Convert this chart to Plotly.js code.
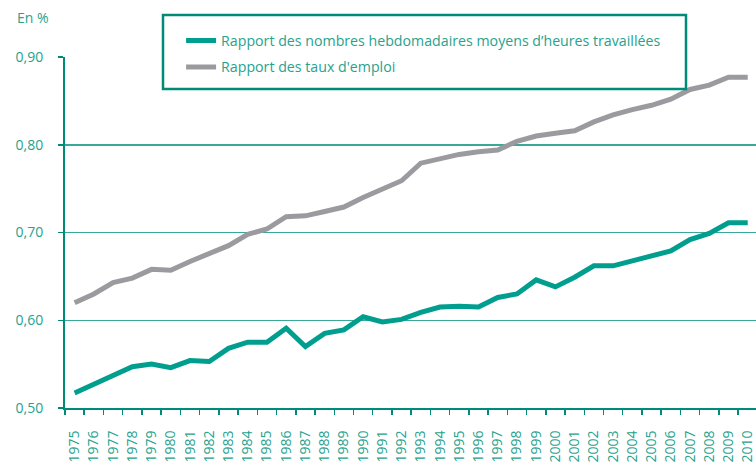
<!DOCTYPE html>
<html>
<head>
<meta charset="utf-8">
<script src="https://cdn.plot.ly/plotly-3.0.1.min.js"></script>
<style>html,body{margin:0;padding:0;background:#fff;}#chart{width:756px;height:464px;}</style>
</head>
<body>
<div id="chart"></div>
<script>
const years = ['1975','1976','1977','1978','1979','1980','1981','1982','1983','1984','1985','1986','1987','1988','1989','1990','1991','1992','1993','1994','1995','1996','1997','1998','1999','2000','2001','2002','2003','2004','2005','2006','2007','2008','2009','2010'];
const heuresRatio = [0.517,0.527,0.538,0.547,0.550,0.546,0.554,0.553,0.568,0.575,0.575,0.591,0.570,0.585,0.589,0.604,0.598,0.601,0.609,0.615,0.616,0.615,0.626,0.630,0.646,0.638,0.649,0.662,0.662,0.668,0.673,0.679,0.692,0.699,0.711,0.711];
const emploiRatio = [0.620,0.630,0.643,0.648,0.658,0.657,0.667,0.676,0.685,0.698,0.704,0.718,0.719,0.724,0.729,0.740,0.750,0.759,0.779,0.784,0.789,0.792,0.794,0.804,0.810,0.813,0.816,0.826,0.834,0.840,0.845,0.852,0.863,0.868,0.877,0.877];
const seriesNames = ['Rapport des nombres hebdomadaires moyens d\u2019heures travaill\u00e9es', "Rapport des taux d'emploi"];

const teal = '#009e8e';
const grey = '#9b9b9f';
const axisCol = '#008a78';
const gridCol = '#3aa898';
const textCol = '#27a28e';
const font = 'Open Sans, Noto Sans, sans-serif';

const traces = [
  {x: years, y: heuresRatio, name: seriesNames[0], type: 'scatter', mode: 'lines',
   line: {color: teal, width: 5}, legendgroup: 'a'},
  {x: years, y: emploiRatio, name: seriesNames[1], type: 'scatter', mode: 'lines',
   line: {color: grey, width: 5}, legendgroup: 'b'}
];

const layout = {
  width: 756, height: 464,
  margin: {l: 65, r: 0, t: 57, b: 56},
  paper_bgcolor: '#fff', plot_bgcolor: '#fff',
  separators: ', ',
  font: {family: font, color: textCol, size: 14},
  showlegend: true,
  legend: {
    x: 0.168, xanchor: 'left', y: 1.092, yanchor: 'top',
    bgcolor: 'rgba(0,0,0,0)', borderwidth: 0,
    font: {family: font, size: 14.2, color: textCol},
    traceorder: 'grouped', tracegroupgap: 5
  },
  xaxis: {
    type: 'category', range: [-0.5, 35.43],
    tickson: 'boundaries', ticks: 'outside', ticklen: 5, tickwidth: 1.5, tickcolor: axisCol,
    showline: true, linecolor: axisCol, linewidth: 2,
    showgrid: false, zeroline: false,
    tickangle: -90, tickfont: {family: font, size: 14, color: textCol},
    ticklabelstandoff: 15, fixedrange: true
  },
  yaxis: {
    range: [0.5, 0.9], dtick: 0.1, tick0: 0.5, tickformat: '.2f',
    ticks: 'outside', ticklen: 5, tickwidth: 1.5, tickcolor: axisCol,
    showline: true, linecolor: axisCol, linewidth: 2,
    showgrid: true, gridcolor: gridCol, gridwidth: 1.5, zeroline: false,
    tickfont: {family: font, size: 14, color: textCol},
    ticklabelstandoff: 12, fixedrange: true
  },
  shapes: [
    {type: 'rect', xref: 'paper', yref: 'paper',
     x0: (163 - 65) / 691, x1: (686 - 65) / 691,
     y0: (408 - 89) / 351, y1: (408 - 15) / 351,
     fillcolor: '#ffffff', line: {color: axisCol, width: 2.5}, layer: 'above'}
  ],
  annotations: [
    {text: 'En %', xref: 'paper', yref: 'paper', x: (15 - 65) / 691, y: (408 - 18) / 351,
     xanchor: 'left', yanchor: 'middle', showarrow: false,
     font: {family: font, size: 14, color: textCol}}
  ]
};

Plotly.newPlot('chart', traces, layout, {displayModeBar: false, staticPlot: true});
</script>
</body>
</html>
